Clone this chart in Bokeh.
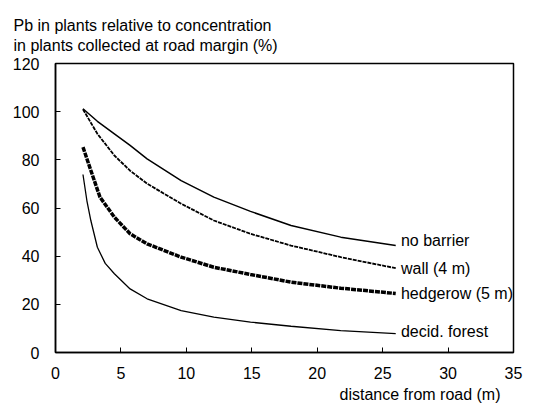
from bokeh.plotting import figure
from bokeh.models import Range1d, Label, FixedTicker, Title
from bokeh.embed import file_html
from bokeh.resources import INLINE

# Data (distance in m, Pb relative %)
nb_x = [2.1, 3.2, 4.5, 5.7, 7.0, 9.6, 12.1, 14.9, 18.0, 21.8, 26.0]
nb_y = [101.2, 96.0, 90.8, 86.0, 80.4, 71.4, 64.5, 58.6, 52.7, 47.9, 44.4]

wall_x = [2.1, 3.2, 4.5, 5.7, 7.0, 9.6, 12.1, 14.9, 18.0, 21.8, 26.0]
wall_y = [101.0, 90.8, 81.8, 75.5, 70.1, 61.8, 54.8, 49.3, 44.4, 39.6, 35.0]

hedge_x = [2.1, 2.7, 3.4, 4.5, 5.7, 7.0, 9.6, 12.1, 14.9, 18.0, 21.8, 26.0]
hedge_y = [85.3, 75.6, 64.5, 56.2, 49.3, 45.1, 39.6, 35.4, 32.4, 29.2, 26.7, 24.5]

dec_x = [2.1, 2.4, 2.7, 3.2, 3.8, 4.5, 5.7, 7.0, 9.6, 12.1, 14.9, 18.0, 21.8, 26.0]
dec_y = [73.9, 63.0, 54.8, 43.7, 37.0, 32.7, 26.4, 22.3, 17.4, 14.7, 12.6, 10.9, 9.1, 7.8]

series_labels = ["no barrier", "wall (4 m)", "hedgerow (5 m)", "decid. forest"]
label_y = [46.5, 35.0, 24.5, 8.7]

x_ticks = [0, 5, 10, 15, 20, 25, 30, 35]
y_ticks = [0, 20, 40, 60, 80, 100, 120]

y_title_1 = "Pb in plants relative to concentration"
y_title_2 = "in plants collected at road margin (%)"
x_title = "distance from road (m)"

FONT = "Liberation Sans"
FS = "16px"

p = figure(width=539, height=416, output_backend="svg", toolbar_location=None,
           x_range=Range1d(0, 35), y_range=Range1d(0, 120),
           min_border_left=55, min_border_right=26, min_border_top=63,
           min_border_bottom=64)
p.grid.visible = False
p.outline_line_color = "black"
p.outline_line_width = 1.5
p.background_fill_color = "white"
p.border_fill_color = "white"

for ax in (p.xaxis[0], p.yaxis[0]):
    ax.axis_line_color = "black"
    ax.axis_line_width = 1.5
    ax.major_tick_in = 5
    ax.major_tick_out = 0
    ax.major_tick_line_color = "black"
    ax.minor_tick_line_color = None
    ax.major_label_text_font = FONT
    ax.major_label_text_font_size = FS
    ax.major_label_text_color = "black"

p.xaxis[0].ticker = FixedTicker(ticks=x_ticks)
p.yaxis[0].ticker = FixedTicker(ticks=y_ticks)
p.xaxis[0].major_label_standoff = 14
p.yaxis[0].major_label_standoff = 16

p.line(nb_x, nb_y, line_color="black", line_width=1.5)
p.line(wall_x, wall_y, line_color="black", line_width=1.8, line_dash="4 1")
p.line(hedge_x, hedge_y, line_color="black", line_width=3.5, line_dash="5 1")
p.line(dec_x, dec_y, line_color="black", line_width=1.3)

for txt, ly in zip(series_labels, label_y):
    p.add_layout(Label(x=26.4, y=ly, text=txt, text_font=FONT, text_font_size=FS,
                       text_baseline="middle", text_align="left", text_color="black"))

# y-axis title as a two-line plot title
p.add_layout(Title(text=y_title_1 + "\n" + y_title_2, align="left", offset=-42,
                   standoff=18, text_line_height=1.2,
                   text_font=FONT, text_font_size=FS, text_font_style="normal",
                   text_color="black"), "above")
p.add_layout(Title(text=x_title, align="right", offset=13, standoff=5,
                   text_font=FONT, text_font_size=FS, text_font_style="normal",
                   text_color="black"), "below")

open("out.html", "w").write(file_html(p, INLINE))
